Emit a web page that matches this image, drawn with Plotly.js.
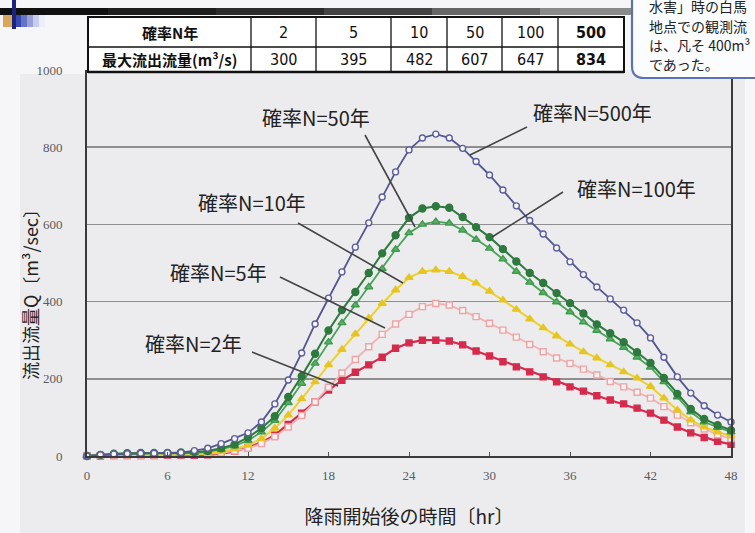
<!DOCTYPE html>
<html><head><meta charset="utf-8">
<script src="https://cdn.plot.ly/plotly-3.0.1.min.js"></script>
<style>html,body{margin:0;padding:0;background:#f6f6f8}#chart{width:755px;height:533px}</style>
</head><body><div id="chart"></div>
<script>
// ---- data ----
const hours = [0,1,2,3,4,5,6,7,8,9,10,11,12,13,14,15,16,17,18,19,20,21,22,23,24,25,26,27,28,29,30,31,32,33,34,35,36,37,38,39,40,41,42,43,44,45,46,47,48];
const q2   = [0,0,1,1,1,1,2,2,2,3,6,12,22,35,54,82,111,140,171,196,217,236,256,279,293,300,300,298,288,272,259,244,231,218,205,192,179,168,156,145,135,124,111,93,75,60,48,38,30];
const q5   = [0,1,1,2,2,2,3,3,4,5,8,13,20,32,50,75,105,140,178,215,250,283,315,342,367,387,395,391,377,361,344,326,308,289,270,254,240,225,210,193,179,165,150,128,106,86,70,55,45];
const q10  = [0,1,2,3,3,3,4,4,5,7,11,18,28,45,72,106,148,192,236,276,316,357,395,430,462,478,482,478,465,448,427,404,380,355,332,311,290,270,254,236,218,202,180,150,119,93,75,62,52];
const q50  = [0,2,4,5,6,6,6,7,8,11,17,26,40,62,92,138,188,240,295,345,391,438,485,535,578,600,607,603,585,561,538,510,478,450,423,399,373,347,325,303,281,256,230,192,153,114,88,74,62];
const q100 = [0,3,6,7,8,8,8,9,10,13,20,30,48,72,103,153,207,265,325,378,425,474,525,572,617,641,647,643,619,593,567,536,504,474,448,422,396,369,341,318,295,269,241,202,161,122,96,80,67];
const q500 = [0,3,5,6,7,7,8,9,14,20,32,45,60,88,135,197,267,342,409,477,541,604,671,736,793,824,834,824,797,763,728,689,648,610,575,539,503,470,438,407,378,345,306,256,205,163,130,106,88];
const seriesLabels = ['確率N=2年','確率N=5年','確率N=10年','確率N=50年','確率N=100年','確率N=500年'];
const xTicks = [0,6,12,18,24,30,36,42,48];
const yTicks = [0,200,400,600,800,1000];
const tableHeader = '確率N年';
const tableRowLabel = '最大流出流量(m³/s)';
const tableYears = ['2','5','10','50','100','500'];
const tablePeaks = ['300','395','482','607','647','834'];
const calloutLines = ['水害」時の白馬','地点での観測流','は、凡そ 400m³','であった。'];
const xTitle = '降雨開始後の時間〔hr〕';
const yTitle = '流出流量Q〔m³/sec〕';

// ---- geometry helpers (pixel -> paper) ----
const W = 755, H = 533, ML = 87, MR = 24, MT = 70, MB = 77;
const PW = W - ML - MR, PH = H - MT - MB;
const X = px => (px - ML) / PW;
const Y = py => (H - MB - py) / PH;

const jp = '"Noto Sans CJK JP", "Noto Sans", sans-serif';
const narrow = '"DejaVu Sans Condensed", "Liberation Sans Narrow", "Liberation Sans", sans-serif';

const styles = [
  {line:'#d62a4c', w:2.2, sym:'square', mc:'#d62a4c', ml:'#d62a4c', size:6},
  {line:'#f2b2b2', w:1.8, sym:'square', mc:'#faf2f2', ml:'#eea4a4', size:6},
  {line:'#ecd12c', w:2.0, sym:'triangle-up', mc:'#e6c520', ml:'#e6c520', size:7},
  {line:'#4aa358', w:1.8, sym:'triangle-up', mc:'#5cb068', ml:'#3e9a4c', size:7},
  {line:'#2e7a3e', w:2.0, sym:'circle', mc:'#2e7a3e', ml:'#2e7a3e', size:7},
  {line:'#55558f', w:1.8, sym:'circle', mc:'#f6f6fa', ml:'#5e5e9e', size:6}
];
const ys = [q2,q5,q10,q50,q100,q500];
const traces = ys.map((y,i)=>({
  type:'scatter', mode:'lines+markers', x:hours, y:y, name:seriesLabels[i],
  cliponaxis:false,
  line:{color:styles[i].line, width:styles[i].w},
  marker:{symbol:styles[i].sym, size:styles[i].size, color:styles[i].mc, line:{color:styles[i].ml, width:1.4}}
}));

const shapes = [];
const annotations = [];
function txt(px, py, text, font, xanchor, angle){
  annotations.push({xref:'paper', yref:'paper', x:X(px), y:Y(py), text:text, showarrow:false,
    xanchor:xanchor||'center', yanchor:'middle', font:font, textangle:angle||0});
}

// scanned page background
shapes.push({type:'rect', xref:'paper', yref:'paper', layer:'below', x0:X(20), x1:X(745), y0:Y(533), y1:Y(74), fillcolor:'#ececef', line:{width:0}});

// top decorative bar (dark gradient approximation)
const barCols = ['#111111','#1e1e1e','#2c2c2c','#444444','#666666','#8a8a8a','#a8a8a8'];
barCols.forEach((c,i)=>{
  shapes.push({type:'rect', xref:'paper', yref:'paper', x0:X(i*108), x1:X((i+1)*108+1), y0:Y(15), y1:Y(8), fillcolor:c, line:{width:0}});
});
// blue decoration
shapes.push({type:'rect', xref:'paper', yref:'paper', x0:X(3), x1:X(13), y0:Y(27), y1:Y(15), fillcolor:'#d9a85a', line:{width:0}});
const blues = ['#3848b0','#6674c4','#98a2d8','#c8cdeb','#eceef8'];
blues.forEach((c,i)=>{
  shapes.push({type:'rect', xref:'paper', yref:'paper', x0:X(15+i*6), x1:X(21+i*6), y0:Y(27), y1:Y(15), fillcolor:c, line:{width:0}});
});
shapes.push({type:'rect', xref:'paper', yref:'paper', x0:X(12), x1:X(16), y0:Y(29), y1:Y(0), fillcolor:'#1a237e', line:{width:0}});

// table
const colEdges = [88,251,316,391,447,502,558,624];
const rowEdges = [17,47,72];
shapes.push({type:'rect', xref:'paper', yref:'paper', x0:X(colEdges[0]), x1:X(colEdges[7]), y0:Y(rowEdges[2]), y1:Y(rowEdges[0]), fillcolor:'#ffffff', line:{color:'#111', width:2}});
shapes.push({type:'line', xref:'paper', yref:'paper', x0:X(colEdges[0]), x1:X(colEdges[7]), y0:Y(rowEdges[1]), y1:Y(rowEdges[1]), line:{color:'#111', width:1.3}});
for (let i=1;i<7;i++){
  shapes.push({type:'line', xref:'paper', yref:'paper', x0:X(colEdges[i]), x1:X(colEdges[i]), y0:Y(rowEdges[2]), y1:Y(rowEdges[0]), line:{color:'#111', width:1.3}});
}
shapes.push({type:'line', xref:'paper', yref:'paper', x0:X(colEdges[0]), x1:X(colEdges[7]), y0:Y(rowEdges[2]), y1:Y(rowEdges[2]), line:{color:'#111', width:2.6}});
const rowMid = [(rowEdges[0]+rowEdges[1])/2, (rowEdges[1]+rowEdges[2])/2];
txt((colEdges[0]+colEdges[1])/2, rowMid[0], '<b>'+tableHeader+'</b>', {family:jp, size:15, color:'#111'});
txt((colEdges[0]+colEdges[1])/2, rowMid[1], '<b>'+tableRowLabel+'</b>', {family:jp, size:15, color:'#111'});
for (let i=0;i<6;i++){
  const cx = (colEdges[i+1]+colEdges[i+2])/2;
  const bold = i===5;
  txt(cx, rowMid[0], bold?'<b>'+tableYears[i]+'</b>':tableYears[i], {family:narrow, size:16, color:'#111'});
  txt(cx, rowMid[1], bold?'<b>'+tablePeaks[i]+'</b>':tablePeaks[i], {family:narrow, size:16, color:'#111'});
}

// callout box (cropped at top-right)
const r = 12;
const cpath = `M ${X(632)} ${Y(-10)} L ${X(632)} ${Y(78-r)} Q ${X(632)} ${Y(78)} ${X(632+r)} ${Y(78)} L ${X(775)} ${Y(78)} L ${X(775)} ${Y(-10)} Z`;
shapes.push({type:'path', xref:'paper', yref:'paper', path:cpath, fillcolor:'#fbfcfe', line:{color:'#5d72b4', width:2.2}});
const cy = [6,26,45,64];
calloutLines.forEach((t,i)=>{ txt(647, cy[i], t, {family:jp, size:14, color:'#222'}, 'left'); });

// series labels with leader lines
const labelPos = [[193,343],[218,272],[252,202],[316,117],[636,188],[592,112]];
const leaders = [[252,352,338,386],[280,277,385,328],[298,223,403,283],[365,135,415,227],[563,192,492,237],[527,127,470,155]];
for (let i=0;i<6;i++){
  txt(labelPos[i][0], labelPos[i][1], seriesLabels[i], {family:jp, size:20, color:'#222'});
  const l = leaders[i];
  shapes.push({type:'line', xref:'paper', yref:'paper', x0:X(l[0]), y0:Y(l[1]), x1:X(l[2]), y1:Y(l[3]), line:{color:'#444', width:1.6}});
}

// y-axis title (placed as rotated text to match the original offset)
txt(30, 290, yTitle, {family:jp, size:18, color:'#222'}, 'center', -90);

const layout = {
  width:W, height:H,
  margin:{l:ML, r:MR, t:MT, b:MB, pad:0, autoexpand:false},
  paper_bgcolor:'#f6f6f8', plot_bgcolor:'#eeeef1',
  showlegend:false,
  xaxis:{
    range:[0,48], tickvals:xTicks, ticktext:xTicks.map(String),
    showgrid:false, zeroline:false, showline:true, linecolor:'#3a3a3a', linewidth:2,
    ticks:'inside', ticklen:4, tickcolor:'#555', tickwidth:1,
    ticklabelstandoff:6,
    tickfont:{family:'"Liberation Serif", "DejaVu Serif", serif', size:13, color:'#5a5a5a'},
    title:{text:xTitle, font:{family:jp, size:19, color:'#222'}, standoff:29},
    automargin:true, fixedrange:true
  },
  yaxis:{
    range:[0,1000], tickvals:yTicks, ticktext:yTicks.map(String),
    showgrid:true, gridcolor:'#8e8e8e', gridwidth:1.5, zeroline:false,
    showline:true, linecolor:'#3a3a3a', linewidth:2, mirror:true,
    ticks:'', ticklabelstandoff:20,
    tickfont:{family:'"Liberation Serif", "DejaVu Serif", serif', size:13, color:'#5a5a5a'},
    automargin:false, fixedrange:true
  },
  shapes:shapes,
  annotations:annotations
};

Plotly.newPlot('chart', traces, layout, {displayModeBar:false, staticPlot:true});
</script>
</body></html>
